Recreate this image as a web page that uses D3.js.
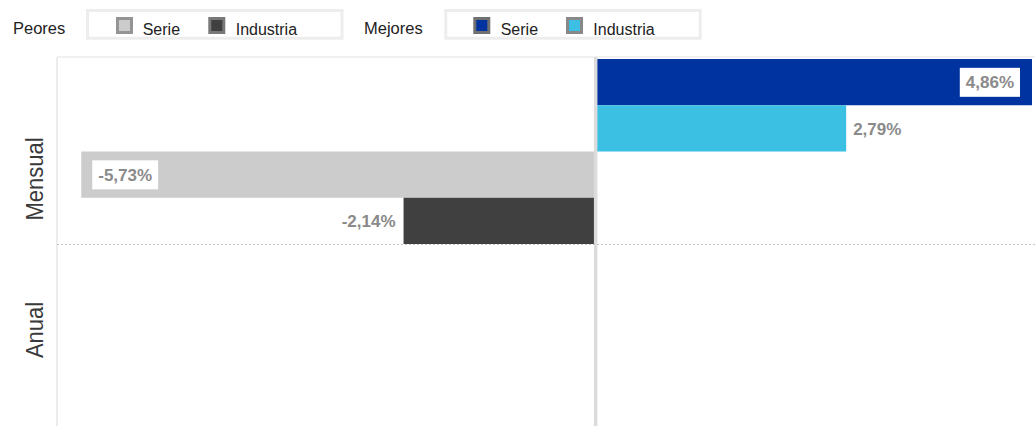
<!DOCTYPE html>
<html>
<head>
<meta charset="utf-8">
<script src="https://cdn.jsdelivr.net/npm/d3@7/dist/d3.min.js"></script>
<style>
  html, body { margin: 0; padding: 0; background: #ffffff; overflow: hidden; }
  svg { display: block; font-family: "Liberation Sans", Arial, sans-serif; }
</style>
</head>
<body>
<svg id="chart" width="1035" height="426"></svg>
<script>
// ---------- DATA ----------
const categories = ["Mensual", "Anual"];
const seriesNames = ["Mejores Serie", "Mejores Industria", "Peores Serie", "Peores Industria"];
const mejoresSerie = [4.86, null];
const mejoresIndustria = [2.79, null];
const peoresSerie = [-5.73, null];
const peoresIndustria = [-2.14, null];
const legendGroups = ["Peores", "Mejores"];
const legendItems = ["Serie", "Industria"];
const xDomain = [-6, 4.86];

// ---------- STYLE ----------
const barColors = {
  "Mejores Serie": "#0033a0",
  "Mejores Industria": "#3bbfe3",
  "Peores Serie": "#cccccc",
  "Peores Industria": "#404040"
};
const swatchBorders = {
  "Mejores Serie": "#707070",
  "Mejores Industria": "#888888",
  "Peores Serie": "#949494",
  "Peores Industria": "#787878"
};
const labelInside = {
  "Mejores Serie": true,
  "Mejores Industria": false,
  "Peores Serie": true,
  "Peores Industria": false
};

const seriesValues = {
  "Mejores Serie": mejoresSerie,
  "Mejores Industria": mejoresIndustria,
  "Peores Serie": peoresSerie,
  "Peores Industria": peoresIndustria
};

const rows = [];
categories.forEach((c, i) => {
  seriesNames.forEach(s => {
    const v = seriesValues[s][i];
    if (v !== null && v !== undefined) rows.push({ category: c, series: s, value: v });
  });
});

const svg = d3.select("#chart");
const plot = { left: 57, top: 57, right: 1032, bottom: 431 };

const x = d3.scaleLinear().domain(xDomain).range([plot.left, plot.right]);
const y0 = d3.scaleBand().domain(categories).range([plot.top, plot.bottom]);
const y1 = d3.scaleBand().domain(seriesNames).range([2, y0.bandwidth()]);
const yLabel = d3.scalePoint().domain(categories).range([179, 330]);

const locale = d3.formatLocale({ decimal: ",", thousands: ".", grouping: [3], currency: ["", "€"], minus: "-" });
const fmt = v => locale.format(".2f")(v) + "%";

// ---------- LEGEND ----------
const legendLayout = [
  { title: "Peores", tx: 13, box: [86, 343.5], sw: [116, 208.3], txt: [142.7, 235.7] },
  { title: "Mejores", tx: 364, box: [444.3, 701.7], sw: [473.3, 566], txt: [500.7, 593.3] }
];
const legend = svg.append("g");
legendGroups.forEach((g, gi) => {
  const L = legendLayout[gi];
  legend.append("text").attr("x", L.tx).attr("y", 34)
    .attr("font-size", "16.5px").attr("fill", "#222").text(g);
  legend.append("rect")
    .attr("x", L.box[0] + 1.5).attr("y", 10.5)
    .attr("width", L.box[1] - L.box[0] - 3).attr("height", 27.7)
    .attr("fill", "none").attr("stroke", "#ededed").attr("stroke-width", 3);
  legendItems.forEach((it, ii) => {
    const key = g + " " + it;
    legend.append("rect")
      .attr("x", L.sw[ii] + 1.5).attr("y", 18.5)
      .attr("width", 14).attr("height", 14)
      .attr("fill", barColors[key]).attr("stroke", swatchBorders[key]).attr("stroke-width", 3);
    legend.append("text").attr("x", L.txt[ii]).attr("y", 35)
      .attr("font-size", "16px").attr("fill", "#222").text(it);
  });
});

// ---------- FRAME ----------
svg.append("line").attr("x1", plot.left).attr("x2", 1035).attr("y1", 57).attr("y2", 57)
  .attr("stroke", "#ebebeb").attr("stroke-width", 1.5);
svg.append("line").attr("x1", plot.left).attr("x2", plot.left).attr("y1", 57).attr("y2", 426)
  .attr("stroke", "#e6e6e6").attr("stroke-width", 1.5);

// ---------- BARS ----------
const bars = svg.append("g");
bars.selectAll("rect").data(rows).join("rect")
  .attr("x", d => Math.min(x(0), x(d.value)))
  .attr("y", d => y0(d.category) + y1(d.series))
  .attr("width", d => Math.abs(x(d.value) - x(0)))
  .attr("height", y1.bandwidth())
  .attr("fill", d => barColors[d.series]);

// zero line
svg.append("line").attr("x1", x(0)).attr("x2", x(0)).attr("y1", 57).attr("y2", 426)
  .attr("stroke", "#dcdcdc").attr("stroke-width", 3.5);

// category divider
categories.slice(1).forEach(c => {
  svg.append("line").attr("x1", plot.left).attr("x2", 1035)
    .attr("y1", y0(c) + 0.5).attr("y2", y0(c) + 0.5)
    .attr("stroke", "#c4c4c4").attr("stroke-width", 1).attr("stroke-dasharray", "2,2");
});

// ---------- VALUE LABELS ----------
const labels = svg.append("g");
rows.forEach(d => {
  const cy = y0(d.category) + y1(d.series) + y1.bandwidth() / 2;
  const end = x(d.value);
  const pos = d.value >= 0;
  const g = labels.append("g");
  const t = g.append("text").attr("font-size", "17px").attr("font-weight", "bold")
    .attr("fill", "#8a8a8a").attr("y", cy + 6.3).text(fmt(d.value));
  const w = t.node().getComputedTextLength();
  const pad = 6;
  if (labelInside[d.series]) {
    const bx = pos ? end - 12 - (w + 2 * pad) : end + 11;
    g.insert("rect", "text").attr("x", bx).attr("y", cy - 14.3)
      .attr("width", w + 2 * pad).attr("height", 29).attr("fill", "#ffffff");
    t.attr("x", bx + pad);
  } else {
    t.attr("x", pos ? end + 7 : end - 8 - w);
  }
});

// ---------- CATEGORY AXIS LABELS ----------
svg.append("g").selectAll("text").data(categories).join("text")
  .attr("transform", d => `translate(43,${yLabel(d)}) rotate(-90) scale(1,1.12)`)
  .attr("text-anchor", "middle")
  .attr("font-size", "22px").attr("fill", "#3a3a3a")
  .text(d => d);
</script>
</body>
</html>
